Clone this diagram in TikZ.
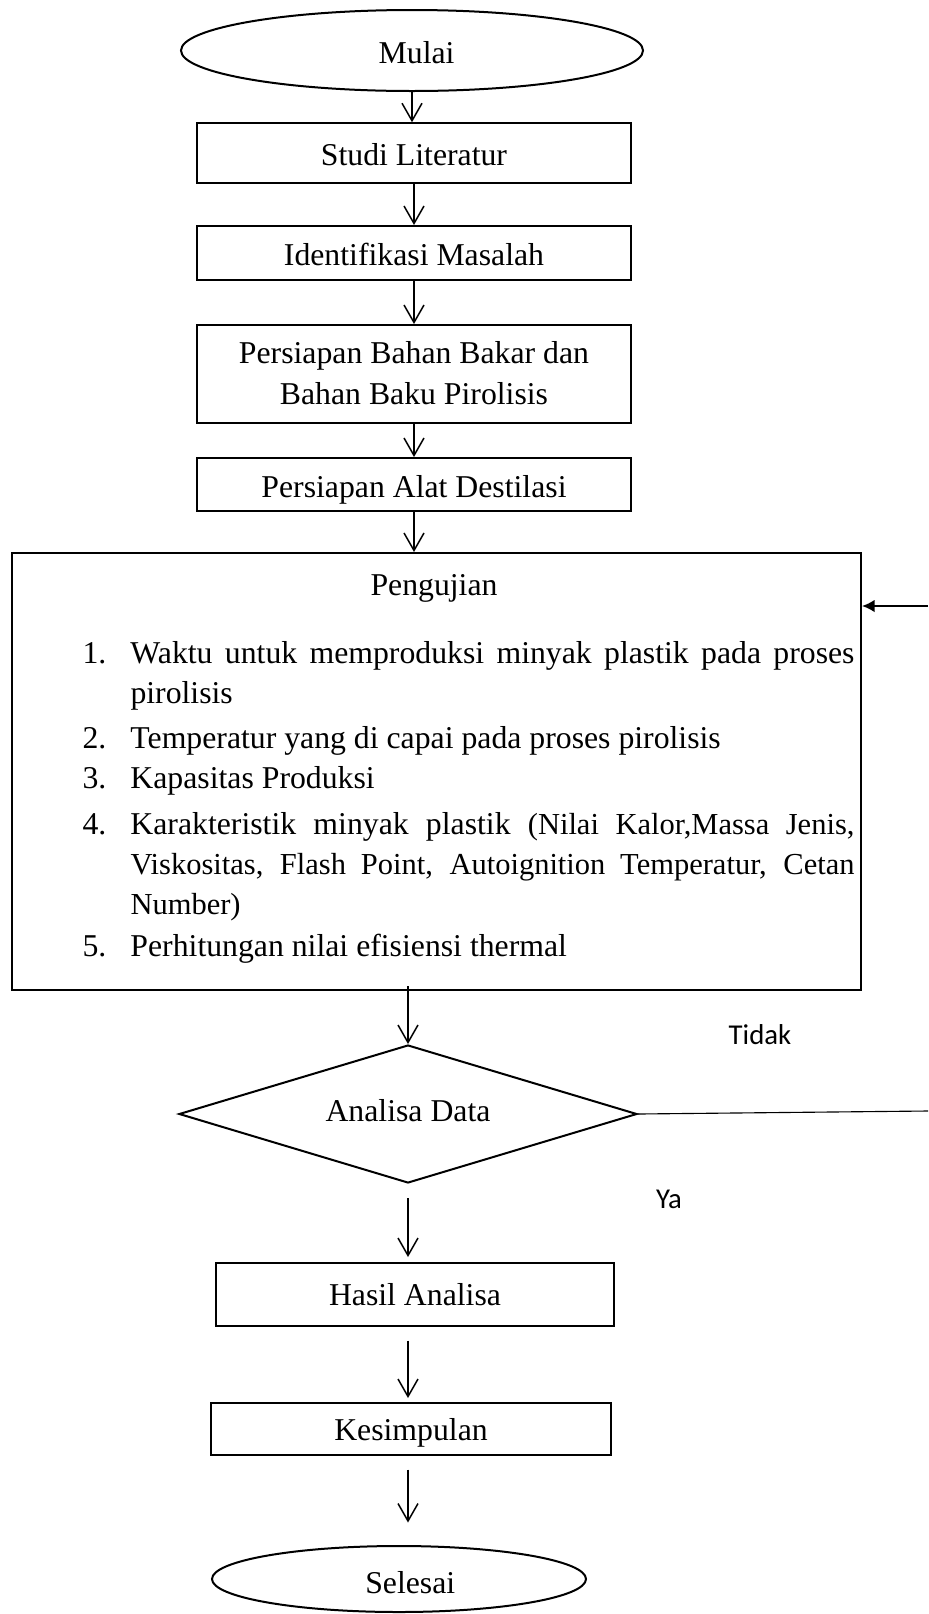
\documentclass[tikz,border=0pt]{standalone}
\usepackage{fontspec}
\setmainfont{Liberation Serif}
\newfontfamily\labelfont{Carlito}
\usetikzlibrary{shapes.geometric,arrows.meta,positioning}
\tikzset{
procbox/.style={
  draw,
  line width=0.8pt,
  inner sep=0pt,
  align=center,
  font=\fontsize{12.7}{16}\selectfont
  },
termnode/.style={
  ellipse,
  draw,
  line width=0.8pt,
  inner sep=0pt,
  font=\fontsize{12.7}{16}\selectfont
  },
decnode/.style={
  diamond,
  draw,
  line width=0.8pt,
  aspect=3.3,
  inner sep=0pt,
  font=\fontsize{12.7}{16}\selectfont
  },
itemtext/.style={
  inner sep=0pt,
  text width=308.8pt,
  align=justify,
  font=\fontsize{12.7}{16}\selectfont
  },
tdrop/.style={text height=#1, text depth=0pt},
flow/.style={line width=0.6pt, -{Straight Barb[length=7pt,width=8pt]}},
yesno/.style={font=\labelfont\fontsize{11.5}{14}\selectfont}
}
\newcommand{\listentry}[2]{\hangindent=19.2pt\hangafter=1\noindent\makebox[19.2pt][l]{#1}#2\par}

\begin{document}
\begin{tikzpicture}[x=0.4pt, y=-0.4pt]
  \useasboundingbox (0,0) rectangle (928,1614);

  \node[termnode, tdrop=10.3pt, minimum width=184.8pt, minimum height=32.4pt] (mulai) at (412,50.5) {\hspace*{3.7pt}Mulai};
  \node[procbox, tdrop=10.3pt, minimum width=173.2pt, minimum height=23.8pt] (studi) at (414,153) {Studi Literatur};
  \node[procbox, tdrop=10.3pt, minimum width=173.2pt, minimum height=21.6pt] (ident) at (414,253) {Identifikasi Masalah};
  \node[procbox, tdrop=24.7pt, minimum width=173.2pt, minimum height=39.2pt,
        font=\fontsize{12.7}{16.45}\selectfont] (bahan) at (414,374) {Persiapan Bahan Bakar dan\\Bahan Baku Pirolisis};
  \node[procbox, tdrop=10.1pt, minimum width=173.2pt, minimum height=21.2pt] (alat) at (414,484.5) {Persiapan Alat Destilasi};

  \node[procbox, minimum width=339.6pt, minimum height=174.8pt] (uji) at (436.5,771.5) {};
  \node[procbox, draw=none, anchor=base] (ujititle) at (434,595) {Pengujian};
  \node[itemtext, anchor=base west] (item1) at (82,663)
    {\listentry{1.}{Waktu untuk memproduksi minyak plastik pada proses\linebreak pirolisis}};
  \node[itemtext, anchor=base west] (item2) at (82,748)
    {\listentry{2.}{Temperatur yang di capai pada proses pirolisis}};
  \node[itemtext, anchor=base west] (item3) at (82,788)
    {\listentry{3.}{Kapasitas Produksi}};
  \node[itemtext, anchor=base west] (item4) at (82,834)
    {\listentry{4.}{Karakteristik minyak plastik {\fontsize{12.2}{16}\selectfont(Nilai Kalor,Massa Jenis,\linebreak
     Viskositas, Flash Point, Autoignition Temperatur, Cetan\linebreak Number)}}};
  \node[itemtext, anchor=base west] (item5) at (82,956)
    {\listentry{5.}{Perhitungan nilai efisiensi thermal}};

  \node[decnode, tdrop=6.3pt, minimum width=183.2pt, minimum height=55.2pt] (dec) at (408,1114) {Analisa Data};
  \node[procbox, tdrop=8.7pt, minimum width=159.2pt, minimum height=25.2pt] (hasil) at (415,1294.5) {Hasil Analisa};
  \node[procbox, tdrop=9.5pt, minimum width=160pt, minimum height=20.8pt] (kesim) at (411,1429) {Kesimpulan};
  \node[termnode, tdrop=11.8pt, minimum width=149.6pt, minimum height=26.4pt] (selesai) at (399,1579) {\hspace*{9pt}Selesai};

  \node[yesno] (tidak) at (760,1035) {Tidak};
  \node[yesno] (ya) at (669,1199) {Ya};

  \coordinate (backout) at (928,1111);
  \coordinate (backin) at (928,606);

  \draw[flow] (mulai.south) -- (mulai.south |- studi.north);
  \draw[flow] (studi.south) -- (studi.south |- ident.north);
  \draw[flow] (ident.south) -- (ident.south |- bahan.north);
  \draw[flow] (bahan.south) -- (bahan.south |- alat.north);
  \draw[flow] (alat.south) -- (alat.south |- uji.north);
  \draw[flow, shorten <=-2pt] (dec.north |- uji.south) -- (dec.north);
  \draw[flow, shorten <=5.6pt, shorten >=2pt] (dec.south) -- (dec.south |- hasil.north);
  \draw[flow, shorten <=5.4pt, shorten >=1.6pt] (dec.south |- hasil.south) -- (dec.south |- kesim.north);
  \draw[flow, shorten <=5.4pt, shorten >=9pt] (dec.south |- kesim.south) -- (dec.south |- selesai.north);

  \draw[line width=0.45pt] (dec.east) -- (backout);
  \draw[line width=0.8pt, -{Latex[length=5pt,width=5pt]}] (backin) -- (uji.east |- backin);

\end{tikzpicture}
\end{document}
